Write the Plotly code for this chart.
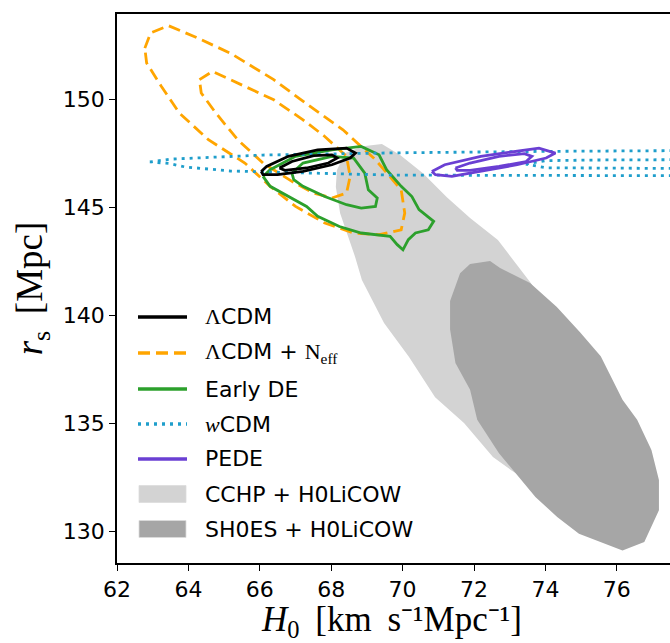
import plotly.graph_objects as go

# ---------------- data (H0, r_s) ----------------
lcdm_out_h0 = [66.04, 66.19, 66.80, 67.62, 68.43, 68.68, 68.53, 68.02, 67.21, 66.50, 66.09, 66.04]
lcdm_out_rs = [146.65, 146.88, 147.35, 147.65, 147.73, 147.50, 147.27, 146.96, 146.65, 146.50, 146.50, 146.65]
lcdm_in_h0 = [66.55, 66.90, 67.51, 68.02, 68.17, 67.92, 67.31, 66.70, 66.55]
lcdm_in_rs = [146.81, 147.11, 147.38, 147.42, 147.27, 147.04, 146.81, 146.70, 146.81]

neff_out_h0 = [62.78, 62.94, 63.44, 64.16, 65.17, 66.39, 67.41, 68.33, 69.24, 69.96, 70.06, 69.96, 69.34,
               68.63, 67.82, 67.00, 66.29, 65.58, 64.56, 63.75, 63.24, 62.83, 62.78]
neff_out_rs = [152.36, 153.06, 153.40, 152.90, 152.13, 150.90, 149.66, 148.58, 147.19, 145.80, 144.72, 143.95,
               143.72, 143.80, 144.26, 145.03, 145.96, 147.04, 148.12, 149.35, 150.59, 151.67, 152.36]
neff_in_h0 = [64.31, 64.67, 65.58, 66.39, 67.21, 67.82, 68.43, 68.53, 68.43, 68.02, 67.51, 66.90, 66.09,
              65.38, 64.77, 64.36, 64.31]
neff_in_rs = [150.90, 151.28, 150.59, 149.97, 149.04, 148.27, 147.35, 146.42, 145.65, 145.42, 145.65, 146.19,
              147.04, 148.12, 149.35, 150.28, 150.90]

ede_out_h0 = [66.09, 66.29, 67.00, 68.02, 68.84, 69.34, 69.55, 69.96, 70.26, 70.46, 70.87, 70.72, 70.36, 70.16,
              70.01, 69.85, 69.65, 68.84, 68.23, 67.62, 67.31, 66.80, 66.29, 66.09]
ede_out_rs = [146.42, 146.73, 147.35, 147.65, 147.81, 147.42, 146.73, 145.96, 145.49, 144.88, 144.34, 143.95,
              143.80, 143.49, 143.02, 143.26, 143.64, 143.80, 144.10, 144.57, 145.03, 145.49, 145.96, 146.42]
ede_in_h0 = [66.90, 67.21, 68.02, 68.63, 68.94, 69.04, 69.29, 69.24, 68.84, 68.43, 67.82, 67.21, 66.95, 66.90]
ede_in_rs = [146.57, 147.04, 147.35, 147.27, 146.57, 145.80, 145.42, 145.03, 144.95, 145.11, 145.49, 145.96,
             146.27, 146.57]

wcdm_out_h0 = [62.92, 63.50, 66.09, 69.68, 74.00, 78.50, 78.50, 74.00, 69.68, 65.17, 63.90, 63.45, 62.92]
wcdm_out_rs = [147.09, 147.22, 147.41, 147.51, 147.58, 147.62, 146.45, 146.45, 146.48, 146.67, 146.86, 147.02, 147.09]
wcdm_in_h0 = [73.45, 74.00, 75.50, 78.50, 78.50, 75.50, 74.00, 73.45]
wcdm_in_rs = [146.99, 147.15, 147.18, 147.20, 146.78, 146.79, 146.82, 146.99]

pede_out_h0 = [70.82, 71.18, 72.19, 73.21, 73.82, 74.28, 74.02, 73.21, 72.19, 71.38, 70.92, 70.82]
pede_out_rs = [146.65, 146.96, 147.35, 147.58, 147.73, 147.50, 147.27, 146.96, 146.65, 146.42, 146.50, 146.65]
pede_in_h0 = [71.48, 71.89, 72.70, 73.41, 73.62, 73.46, 72.70, 71.89, 71.53, 71.48]
pede_in_rs = [146.81, 147.04, 147.35, 147.47, 147.35, 147.11, 146.88, 146.70, 146.70, 146.81]

cchp_h0 = [68.13, 68.16, 68.39, 68.89, 69.42, 69.93, 70.57, 71.24, 71.89, 72.67, 73.57, 74.20, 74.30, 73.90,
           73.34, 73.04, 72.53, 71.72, 70.91, 70.18, 69.48, 68.86, 68.67, 68.44, 68.25, 68.13]
cchp_rs = [145.93, 146.71, 147.50, 147.82, 147.92, 147.41, 146.57, 145.46, 144.49, 143.47, 141.53, 140.00,
           137.50, 134.50, 132.50, 132.82, 133.43, 135.00, 136.20, 138.06, 139.63, 141.62, 142.69, 143.80,
           144.72, 145.93]

shoes_h0 = [71.33, 71.61, 71.89, 72.45, 72.73, 73.57, 74.32, 74.97, 75.55, 76.16, 76.57, 76.97, 77.18, 77.18,
            76.77, 76.16, 74.94, 74.33, 73.72, 72.70, 72.09, 71.89, 71.48, 71.33, 71.33]
shoes_rs = [140.65, 141.94, 142.36, 142.50, 142.18, 141.48, 140.37, 139.21, 138.09, 136.08, 135.15, 133.75,
            132.36, 130.96, 129.49, 129.10, 129.88, 130.65, 131.58, 133.60, 135.15, 136.54, 137.78, 139.33, 140.65]

x_ticks = [62, 64, 66, 68, 70, 72, 74, 76]
y_ticks = [130, 135, 140, 145, 150]

legend_labels = [
    "<span style='font-family:Liberation Serif'>Λ</span>CDM",
    "<span style='font-family:Liberation Serif'>Λ</span>CDM + <span style='font-family:Liberation Serif'>N<sub>eff</sub></span>",
    "Early DE",
    "<span style='font-family:Liberation Serif;font-style:italic'>w</span>CDM",
    "PEDE",
    "CCHP + H0LiCOW",
    "SH0ES + H0LiCOW",
]
x_title = "<i>H</i><sub>0</sub>\u2009 [km\u2009 s⁻¹Mpc⁻¹]"
y_title = "<i>r</i><sub>s</sub>\u2009 [Mpc]"

# ---------------- styles ----------------
C_BLACK = "black"
C_ORANGE = "#FFA500"
C_GREEN = "#2ca02c"
C_CYAN = "#1f9ecb"
C_PURPLE = "#6a3fd3"
C_LIGHT = "#d3d3d3"
C_DARK = "#a6a6a6"
LW = 2.8
DASH = "12px,6px"
DOT = "3px,5px"

fig = go.Figure()


def fill(x, y, color):
    fig.add_trace(go.Scatter(x=x, y=y, mode="lines", fill="toself", fillcolor=color,
                             line=dict(width=0, color=color), showlegend=False, hoverinfo="skip"))


def line(x, y, color, dash="solid"):
    fig.add_trace(go.Scatter(x=x, y=y, mode="lines", line=dict(width=LW, color=color, dash=dash),
                             showlegend=False, hoverinfo="skip"))


fill(cchp_h0, cchp_rs, C_LIGHT)
fill(shoes_h0, shoes_rs, C_DARK)
line(neff_out_h0, neff_out_rs, C_ORANGE, DASH)
line(neff_in_h0, neff_in_rs, C_ORANGE, DASH)
line(ede_out_h0, ede_out_rs, C_GREEN)
line(ede_in_h0, ede_in_rs, C_GREEN)
line(wcdm_out_h0, wcdm_out_rs, C_CYAN, DOT)
line(wcdm_in_h0, wcdm_in_rs, C_CYAN, DOT)
line(pede_out_h0, pede_out_rs, C_PURPLE)
line(pede_in_h0, pede_in_rs, C_PURPLE)
line(lcdm_out_h0, lcdm_out_rs, C_BLACK)
line(lcdm_in_h0, lcdm_in_rs, C_BLACK)

# ---------------- manual legend (paper coordinates) ----------------
L, R, T, B = 117, 670, 14, 563


def px(xp):
    return (xp - L) / (R - L)


def py(yp):
    return (B - yp) / (B - T)


row_y = [317, 353, 389, 424, 459, 494, 529]
line_styles = [(C_BLACK, "solid"), (C_ORANGE, DASH), (C_GREEN, "solid"), (C_CYAN, DOT), (C_PURPLE, "solid")]
shapes = []
for i, (col, dsh) in enumerate(line_styles):
    shapes.append(dict(type="line", xref="paper", yref="paper", x0=px(138), x1=px(187),
                       y0=py(row_y[i]), y1=py(row_y[i]), line=dict(color=col, width=3.5, dash=dsh)))
for i, col in [(5, C_LIGHT), (6, C_DARK)]:
    shapes.append(dict(type="rect", xref="paper", yref="paper", x0=px(139), x1=px(186),
                       y0=py(row_y[i] + 8.5), y1=py(row_y[i] - 8.5), fillcolor=col,
                       line=dict(width=0.8, color="#dcdcdc")))

annotations = []
for i, lab in enumerate(legend_labels):
    annotations.append(dict(text=lab, xref="paper", yref="paper", x=px(203), y=py(row_y[i]),
                            xanchor="left", yanchor="middle", showarrow=False,
                            font=dict(family="DejaVu Sans", size=22, color="black")))
# x-axis title as annotation for precise vertical placement
annotations.append(dict(text=x_title, xref="paper", yref="paper", x=px(391), y=py(621),
                        xanchor="center", yanchor="middle", showarrow=False,
                        font=dict(family="Liberation Serif", size=35, color="black")))

fig.update_layout(
    width=670, height=643,
    margin=dict(l=L, r=670 - R, t=T, b=643 - B),
    plot_bgcolor="white", paper_bgcolor="white",
    showlegend=False,
    shapes=shapes, annotations=annotations,
    font=dict(family="DejaVu Sans", size=22, color="black"),
)
fig.update_xaxes(range=[62, 77.49], tickvals=x_ticks, ticks="outside", ticklen=6, tickwidth=1.3,
                 tickcolor="black", showline=True, linecolor="black", linewidth=1.6, mirror=True,
                 showgrid=False, zeroline=False, tickfont=dict(size=22))
fig.update_yaxes(range=[128.52, 153.94], tickvals=y_ticks, ticks="outside", ticklen=6, tickwidth=1.3,
                 tickcolor="black", showline=True, linecolor="black", linewidth=1.6, mirror=False,
                 showgrid=False, zeroline=False, tickfont=dict(size=22),
                 title=dict(text=y_title, font=dict(family="Liberation Serif", size=37), standoff=9))

fig.write_html("out.html")
